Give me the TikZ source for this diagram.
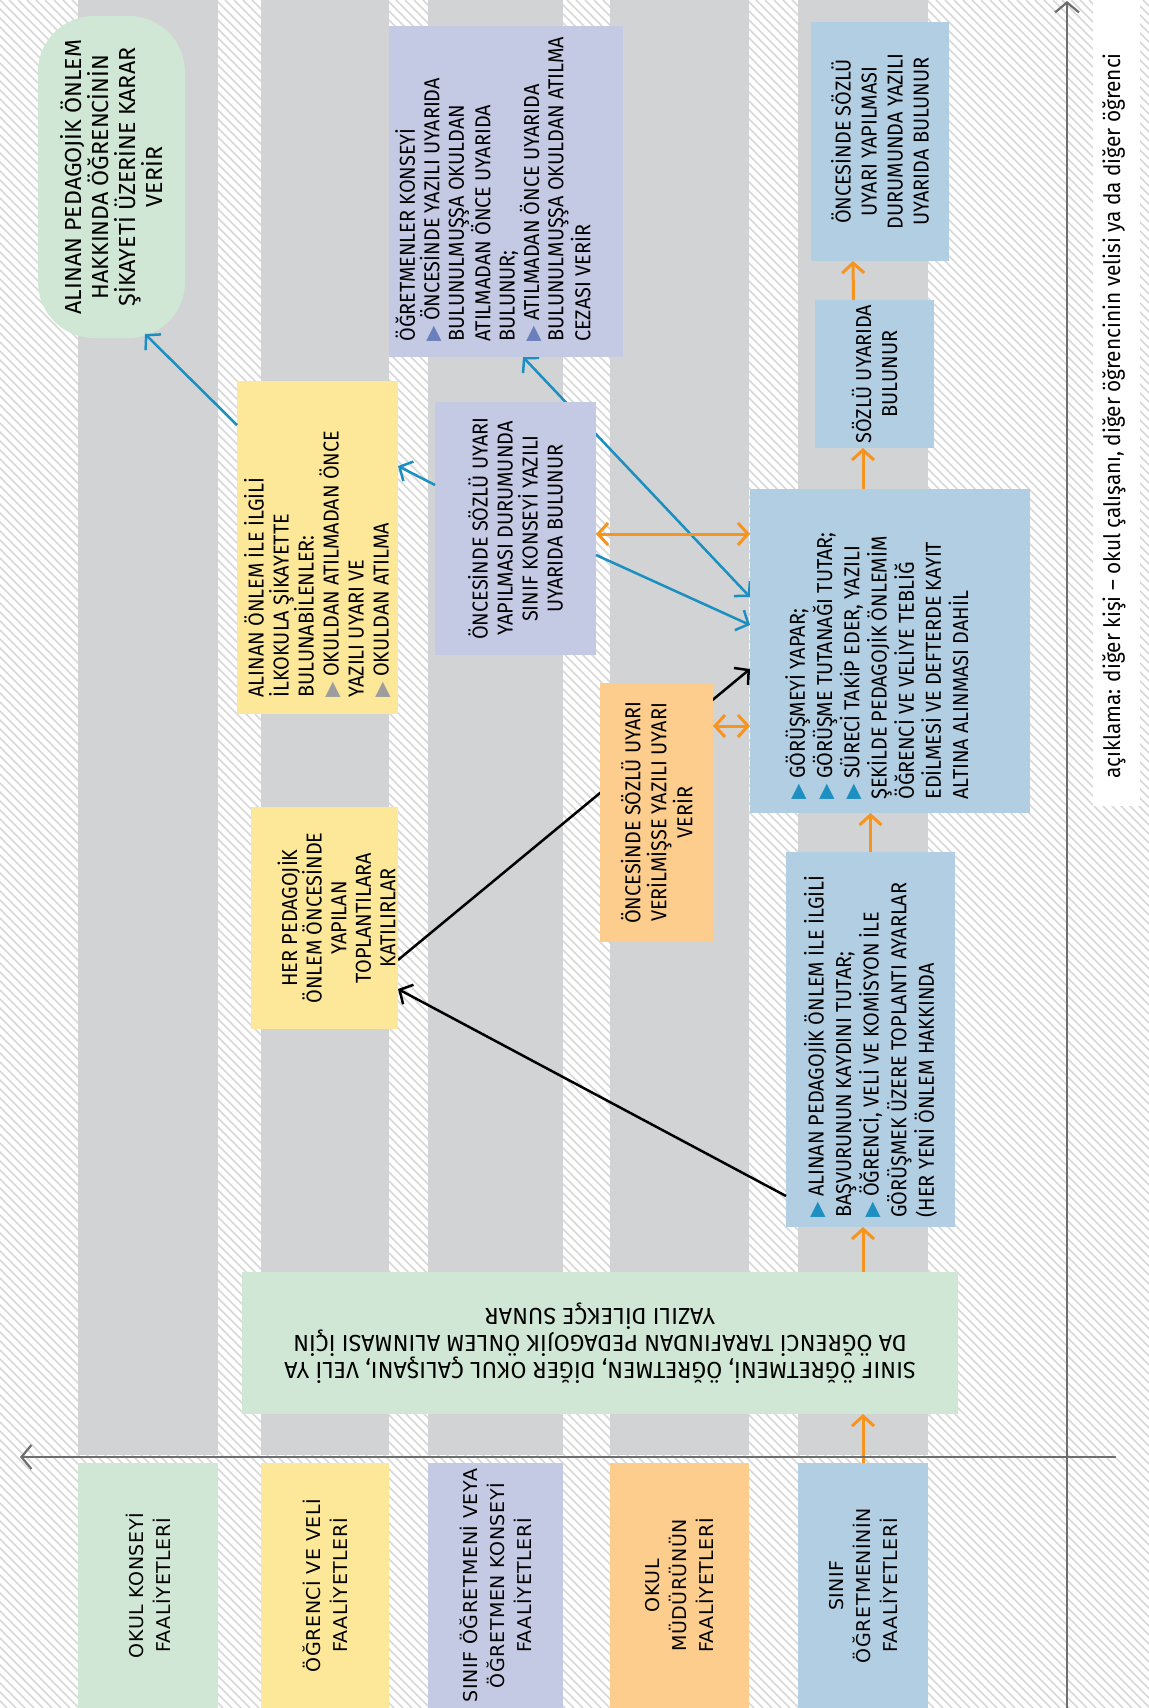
\documentclass[tikz,border=0pt]{standalone}
\usepackage{fontspec}
\setmainfont[FakeStretch=0.92]{Fira Sans}
\newfontfamily\greenfont{Fira Sans}
\newfontfamily\lanefont[LetterSpace=3]{DejaVu Sans}
\newfontfamily\symfont{DejaVu Sans}
\usetikzlibrary{arrows.meta,calc,fit}
\pgfdeclarelayer{back}
\pgfdeclarelayer{mid}
\pgfsetlayers{back,mid,main}
\definecolor{cgreen}{HTML}{CFE7D4}
\definecolor{cyellow}{HTML}{FDE89A}
\definecolor{cpurple}{HTML}{C5CAE4}
\definecolor{corange}{HTML}{FDCD8D}
\definecolor{cblue}{HTML}{B2CEE2}
\definecolor{clane}{HTML}{D2D3D5}
\definecolor{chatch}{HTML}{D8D8D8}
\definecolor{cline}{HTML}{1B8FC0}
\definecolor{carrow}{HTML}{F7941D}
\definecolor{caxis}{HTML}{6D6E70}
\definecolor{tripurple}{HTML}{6A7FBB}
\definecolor{trigray}{HTML}{9D9D9D}
\definecolor{triblue}{HTML}{1D8FC1}
\newcommand{\trib}[1]{{\symfont\fontsize{10}{10}\selectfont\textcolor{#1}{▶}}}
\begin{document}
\begin{tikzpicture}[x=0.5pt,y=-0.5pt,
  box/.style={inner sep=0pt,outer sep=0pt},
  txt/.style={rotate=90,inner sep=0pt,font=\fontsize{10.8}{13}\selectfont},
  gtxt/.style={rotate=90,inner sep=0pt,align=center,font=\greenfont\fontsize{11.6}{13.5}\selectfont},
  lanelab/.style={rotate=90,align=center,inner sep=0pt,font=\lanefont\fontsize{9.5}{13.5}\selectfont},
  barb/.style={arrows={-Straight Barb[length=5pt,width=11pt]}},
  dbarb/.style={arrows={Straight Barb[length=5pt,width=11pt]-Straight Barb[length=5pt,width=11pt]}},
  bline/.style={cline,line width=1.25pt},
  oline/.style={carrow,line width=1.5pt},
  kline/.style={black,line width=1.25pt},
  axisline/.style={caxis,line width=1.1pt,arrows={-Straight Barb[length=5pt,width=12pt]}}
]
\useasboundingbox (0,0) rectangle (1149,1708);
\begin{pgfonlayer}{back}
\fill[white] (0,0) rectangle (1149,1708);
\begin{scope}
\clip (0,0) rectangle (1149,1708);
\foreach \k in {-1710,-1701,...,1150}{\draw[chatch,line width=0.75pt] (\k,0) -- ++(1708,1708);}
\end{scope}
\foreach \a/\b in {78/218,261/389,428/563,610/749,798/928}{\fill[clane] (\a,0) rectangle (\b,1455);}
\fill[white] (1093,0) rectangle (1140,806);
\end{pgfonlayer}

% lane labels
\node[box,fill=cgreen,fit={(78,1463) (218,1708)}] (lab1) {};
\node[box,fill=cyellow,fit={(261,1463) (389,1708)}] (lab2) {};
\node[box,fill=cpurple,fit={(428,1463) (563,1708)}] (lab3) {};
\node[box,fill=corange,fit={(610,1463) (749,1708)}] (lab4) {};
\node[box,fill=cblue,fit={(798,1463) (928,1708)}] (lab5) {};
\node[lanelab] (t1) at (lab1.center) {OKUL KONSEYİ\\FAALİYETLERİ};
\node[lanelab] (t2) at (lab2.center) {ÖĞRENCİ VE VELİ\\FAALİYETLERİ};
\node[lanelab] (t3) at (lab3.center) {SINIF ÖĞRETMENİ VEYA\\ÖĞRETMEN KONSEYİ\\FAALİYETLERİ};
\node[lanelab] (t4) at (lab4.center) {OKUL\\MÜDÜRÜNÜN\\FAALİYETLERİ};
\node[lanelab] (t5) at (lab5.center) {SINIF\\ÖĞRETMENİNİN\\FAALİYETLERİ};

% boxes
\node[box,fill=cgreen,rounded corners=28pt,fit={(38,16) (185,338)}] (gtop) {};
\node[box,fill=cpurple,fit={(389,26) (623,357)}] (ptop) {};
\node[box,fill=cblue,fit={(811,22) (949,261)}] (onc) {};
\node[box,fill=cblue,fit={(815,300) (934,448)}] (soz) {};
\node[box,fill=cyellow,fit={(237,381) (398,714)}] (yel) {};
\node[box,fill=cpurple,fit={(435,402) (596,655)}] (pmid) {};
\node[box,fill=cblue,fit={(750,489) (1030,813)}] (bigb) {};
\node[box,fill=corange,fit={(600,683) (713,942)}] (oran) {};
\node[box,fill=cyellow,fit={(251,807) (398,1029)}] (ysm) {};
\node[box,fill=cblue,fit={(786,852) (955,1227)}] (blow) {};
\node[box,fill=cgreen,fit={(242,1272) (958,1414)}] (gwide) {};

% texts
\node[gtxt] (x1) at (gtop.center) {ALINAN PEDAGOJİK ÖNLEM\\HAKKINDA ÖĞRENCİNİN\\ŞİKAYETİ ÜZERİNE KARAR\\VERİR};
\node[txt,align=left,anchor=north west,font=\fontsize{10.8}{12.2}\selectfont] (x2) at ($(ptop.south west)+(6,-15)$) {ÖĞRETMENLER KONSEYİ\\\trib{tripurple} ÖNCESİNDE YAZILI UYARIDA\\BULUNULMUŞŞA OKULDAN\\ATILMADAN ÖNCE UYARIDA\\BULUNUR;\\\trib{tripurple} ATILMADAN ÖNCE UYARIDA\\BULUNULMUŞŞA OKULDAN ATILMA\\CEZASI VERİR};
\node[txt,align=center] (x3) at (onc.center) {ÖNCESİNDE SÖZLÜ\\UYARI YAPILMASI\\DURUMUNDA YAZILI\\UYARIDA BULUNUR};
\node[txt,align=center] (x4) at (soz.center) {SÖZLÜ UYARIDA\\BULUNUR};
\node[txt,align=left,anchor=west,font=\fontsize{10.8}{12.5}\selectfont] (x5) at ($(yel.south)+(0,-16)$) {ALINAN ÖNLEM İLE İLGİLİ\\İLKOKULA ŞİKAYETTE\\BULUNABİLENLER:\\\trib{trigray} OKULDAN ATILMADAN ÖNCE\\YAZILI UYARI VE\\\trib{trigray} OKULDAN ATILMA};
\node[txt,align=center,font=\fontsize{10.8}{12.5}\selectfont] (x6) at (pmid.center) {ÖNCESİNDE SÖZLÜ UYARI\\YAPILMASI DURUMUNDA\\SINIF KONSEYİ YAZILI\\UYARIDA BULUNUR};
\node[txt,align=left,anchor=north west,font=\fontsize{10.8}{13.6}\selectfont] (x7) at ($(bigb.south west)+(35,-13)$) {\trib{triblue} GÖRÜŞMEYİ YAPAR;\\\trib{triblue} GÖRÜŞME TUTANAĞI TUTAR;\\\trib{triblue} SÜRECİ TAKİP EDER, YAZILI\\ŞEKİLDE PEDAGOJİK ÖNLEMİM\\ÖĞRENCİ VE VELİYE TEBLİĞ\\EDİLMESİ VE DEFTERDE KAYIT\\ALTINA ALINMASI DAHİL};
\node[txt,align=center] (x8) at (oran.center) {ÖNCESİNDE SÖZLÜ UYARI\\VERİLMİŞSE YAZILI UYARI\\VERİR};
\node[txt,align=center,font=\fontsize{10.8}{12.3}\selectfont] (x9) at ($(ysm.center)+(12,0)$) {HER PEDAGOJİK\\ÖNLEM ÖNCESİNDE\\YAPILAN\\TOPLANTILARA\\KATILIRLAR};
\node[txt,align=left,anchor=west,font=\fontsize{10.8}{13.8}\selectfont] (x10) at ($(blow.south)+(0,-9)$) {\trib{triblue} ALINAN PEDAGOJİK ÖNLEM İLE İLGİLİ\\BAŞVURUNUN KAYDINI TUTAR;\\\trib{triblue} ÖĞRENCİ, VELİ VE KOMİSYON İLE\\GÖRÜŞMEK ÜZERE TOPLANTI AYARLAR\\(HER YENİ ÖNLEM HAKKINDA};
\node[gtxt,rotate=90] (x11) at (gwide.center) {SINIF ÖĞRETMENİ, ÖĞRETMEN, DİĞER OKUL ÇALIŞANI, VELİ YA\\DA ÖĞRENCİ TARAFINDAN PEDAGOJİK ÖNLEM ALINMASI İÇİN\\YAZILI DİLEKÇE SUNAR};

% note
\node[rotate=90,anchor=west,inner sep=0pt,font=\fontsize{11.3}{12}\selectfont] (note) at (1114,779) {açıklama: diğer kişi – okul çalışanı, diğer öğrencinin velisi ya da diğer öğrenci};

% connectors hidden behind boxes
\begin{pgfonlayer}{mid}
\draw[bline,dbarb] ($(bigb.north west)+(0,108)$) -- ($(ptop.south west)+(134,0)$);
\draw[kline,barb] ($(ysm.north east)+(0,153)$) -- ($(bigb.north west)+(0,180)$);
\end{pgfonlayer}

% other connectors
\draw[bline,barb] ($(yel.north west)+(0,44)$) -- ($(gtop.south east)+(-40,-4)$);
\draw[bline,barb] ($(pmid.north west)+(0,83)$) -- ($(yel.north east)+(0,85)$);
\draw[bline,barb] ($(pmid.north east)+(0,153)$) -- ($(bigb.north west)+(0,136)$);
\draw[oline,dbarb] ($(pmid.north east)+(0,132)$) -- ($(bigb.north west)+(0,45)$);
\draw[oline,dbarb] ($(oran.north east)+(0,43)$) -- ($(bigb.north west)+(0,237)$);
\draw[kline,barb] ($(blow.north west)+(0,344)$) -- ($(ysm.north east)+(0,182)$);

\draw[oline,barb] (lab5.north) -- (lab5.north |- gwide.south);
\draw[oline,barb] (lab5.north |- gwide.north) -- (lab5.north |- blow.south);
\draw[oline,barb] (blow.north) -- (blow.north |- bigb.south);
\draw[oline,barb] (lab5.north |- bigb.north) -- (lab5.north |- soz.south);
\draw[oline,barb] ($(soz.north)+(-21,0)$) -- ($(onc.south)+(-27,0)$);

% axes
\coordinate (hx1) at (1116,1457);
\coordinate (hx0) at (20,1457);
\coordinate (vy1) at (1067,1708);
\coordinate (vy0) at (1067,1);
\draw[axisline] (hx1) -- (hx0);
\draw[axisline] (vy1) -- (vy0);
\end{tikzpicture}
\end{document}
